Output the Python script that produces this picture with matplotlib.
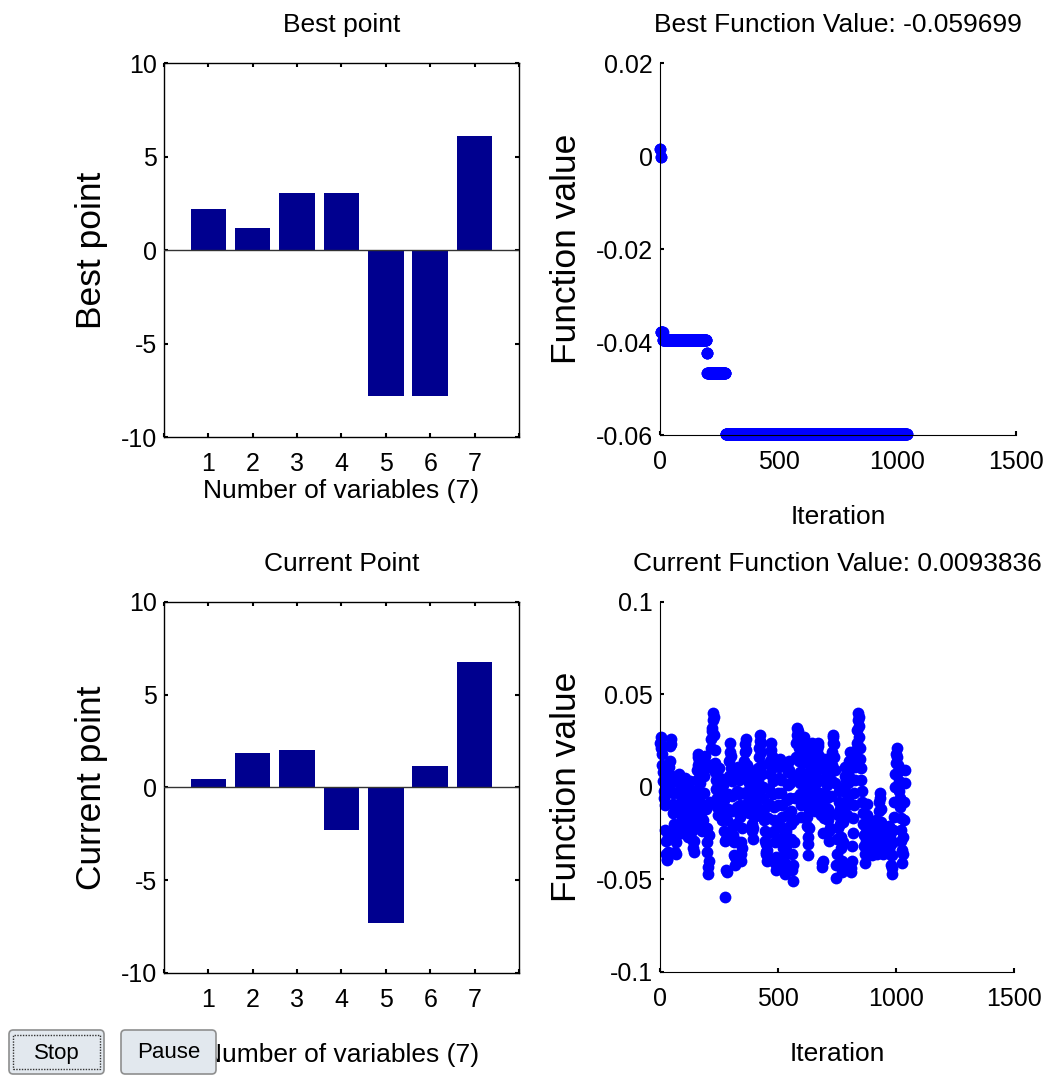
import matplotlib
matplotlib.use("Agg")
import matplotlib.pyplot as plt
from matplotlib.patches import FancyBboxPatch
import numpy as np

plt.rcParams['font.family'] = ['Liberation Sans', 'DejaVu Sans']
plt.rcParams['axes.unicode_minus'] = False

# variables 1..7
var_idx = [1, 2, 3, 4, 5, 6, 7]
best_x = [2.19, 1.17, 3.04, 3.04, -7.83, -7.83, 6.09]
current_x = [0.44, 1.87, 2.02, -2.31, -7.31, 1.13, 6.77]

# best function value (piecewise constant: iteration where a new best appears)
best_change_iter = [0, 2, 4, 12, 196, 199, 276]
best_level = [0.0015, -0.0003, -0.0378, -0.0396, -0.0424, -0.0467, -0.059699]
last_iter = 1040

# current function value, (iteration, value)
cur_points = np.array([
    (0, 0.024), (3, 0.027), (5, 0.021), (7, 0.018), (9, 0.012), (11, 0.008), (13, 0.003),
    (15, -0.002), (17, -0.006), (19, -0.010), (21, -0.004), (23, -0.023), (25, -0.029),
    (27, -0.036), (29, -0.0396), (31, -0.039), (33, -0.035), (35, -0.026), (37, 0.000),
    (39, 0.011), (41, 0.014), (43, 0.022), (45, 0.026), (47, 0.023), (49, 0.006), (51, 0.004),
    (53, -0.003), (55, -0.009), (57, -0.014), (59, -0.020), (61, -0.024), (63, -0.028),
    (65, -0.035), (67, -0.036), (69, -0.030), (71, -0.021), (73, -0.012), (75, -0.003),
    (77, 0.004), (79, 0.007), (81, 0.005), (83, 0.001), (85, -0.002), (87, -0.008),
    (89, -0.013), (91, -0.017), (93, -0.022), (95, -0.025), (97, -0.019), (99, -0.010),
    (101, -0.004), (103, 0.002), (105, 0.005), (107, 0.003), (109, -0.006), (111, -0.012),
    (113, -0.017), (115, -0.023), (117, -0.027), (119, -0.021), (121, -0.015), (123, -0.010),
    (125, -0.006), (127, -0.001), (129, 0.003), (131, -0.004), (133, -0.011), (135, -0.018),
    (137, -0.024), (139, -0.029), (141, -0.033), (143, -0.035), (145, -0.029), (147, -0.020),
    (149, -0.013), (151, -0.007), (153, -0.002), (155, 0.004), (157, 0.009), (159, 0.012),
    (161, 0.016), (163, 0.018), (165, 0.014), (167, 0.008), (169, 0.002), (171, -0.005),
    (173, -0.011), (175, -0.016), (177, -0.020), (179, -0.024), (181, -0.018), (183, -0.010),
    (185, -0.003), (187, 0.006), (189, 0.013), (191, 0.017), (193, 0.010), (195, -0.012),
    (197, -0.022), (199, -0.030), (201, -0.035), (203, -0.043), (205, -0.047), (207, -0.040),
    (209, -0.026), (211, -0.008), (213, 0.012), (215, 0.021), (217, 0.026), (219, 0.030),
    (221, 0.032), (223, 0.036), (225, 0.040), (227, 0.038), (229, 0.028), (231, 0.020),
    (233, 0.013), (235, 0.008), (237, 0.004), (239, -0.001), (241, -0.006), (243, -0.011),
    (245, -0.015), (247, -0.008), (249, 0.002), (251, 0.010), (253, 0.005), (255, -0.003),
    (257, -0.009), (259, -0.014), (261, -0.018), (263, -0.012), (265, -0.005), (267, 0.001),
    (269, -0.007), (271, -0.016), (273, -0.024), (275, -0.029), (277, -0.0597), (279, -0.045),
    (281, -0.028), (283, -0.018), (285, -0.046), (287, -0.012), (289, -0.004), (291, 0.006),
    (293, 0.014), (295, 0.019), (297, 0.024), (299, 0.017), (301, 0.010), (303, 0.003),
    (305, -0.005), (307, -0.013), (309, -0.021), (311, -0.026), (313, -0.030), (315, -0.037),
    (317, -0.042), (319, -0.038), (321, -0.029), (323, -0.020), (325, -0.011), (327, -0.002),
    (329, 0.006), (331, 0.011), (333, 0.004), (335, -0.004), (337, -0.010), (339, -0.016),
    (341, -0.030), (343, -0.036), (345, -0.040), (347, -0.033), (349, -0.022), (351, -0.012),
    (353, -0.003), (355, 0.007), (357, 0.014), (359, 0.019), (361, 0.023), (363, 0.026),
    (365, 0.020), (367, 0.012), (369, 0.005), (371, -0.002), (373, -0.008), (375, -0.014),
    (377, -0.006), (379, 0.002), (381, 0.009), (383, 0.004), (385, -0.005), (387, -0.013),
    (389, -0.020), (391, -0.024), (393, -0.028), (395, -0.022), (397, -0.016), (399, -0.009),
    (401, -0.002), (403, 0.006), (405, 0.001), (407, -0.007), (409, -0.015), (411, -0.011),
    (413, -0.003), (415, 0.004), (417, 0.010), (419, 0.016), (421, 0.021), (423, 0.025),
    (425, 0.028), (427, 0.024), (429, 0.019), (431, 0.012), (433, 0.007), (435, 0.000),
    (437, -0.006), (439, -0.012), (441, -0.018), (443, -0.024), (445, -0.029), (447, -0.035),
    (449, -0.036), (451, -0.031), (453, -0.040), (455, -0.034), (457, -0.025), (459, -0.017),
    (461, -0.009), (463, -0.001), (465, 0.007), (467, 0.014), (469, 0.020), (471, 0.024),
    (473, 0.017), (475, 0.010), (477, 0.003), (479, -0.004), (481, -0.011), (483, -0.018),
    (485, -0.024), (487, -0.030), (489, -0.041), (491, -0.045), (493, -0.038), (495, -0.028),
    (497, -0.019), (499, -0.010), (501, -0.003), (503, 0.005), (505, 0.011), (507, 0.015),
    (509, 0.012), (511, 0.004), (513, -0.003), (515, -0.010), (517, -0.016), (519, -0.022),
    (521, -0.027), (523, -0.033), (525, -0.037), (527, -0.043), (529, -0.047), (531, -0.041),
    (533, -0.032), (535, -0.024), (537, -0.015), (539, -0.007), (541, 0.001), (543, 0.008),
    (545, 0.014), (547, 0.009), (549, 0.002), (551, -0.006), (553, -0.013), (555, -0.020),
    (557, -0.028), (559, -0.036), (561, -0.045), (563, -0.051), (565, -0.042), (567, -0.030),
    (569, -0.018), (571, -0.006), (573, 0.006), (575, 0.016), (577, 0.024), (579, 0.028),
    (581, 0.032), (583, 0.030), (585, 0.026), (587, 0.021), (589, 0.014), (591, 0.008),
    (593, 0.002), (595, -0.004), (597, -0.010), (599, -0.016), (601, -0.008), (603, 0.004),
    (605, 0.013), (607, 0.020), (609, 0.027), (611, 0.022), (613, 0.015), (615, 0.007),
    (617, -0.001), (619, -0.009), (621, -0.016), (623, -0.021), (625, -0.027), (627, -0.037),
    (629, -0.031), (631, -0.022), (633, -0.013), (635, -0.005), (637, 0.003), (639, 0.010),
    (641, 0.016), (643, 0.021), (645, 0.024), (647, 0.019), (649, 0.012), (651, 0.005),
    (653, -0.002), (655, -0.008), (657, -0.013), (659, -0.006), (661, 0.002), (663, 0.009),
    (665, 0.015), (667, 0.020), (669, 0.024), (671, 0.022), (673, 0.017), (675, 0.011),
    (677, 0.004), (679, -0.003), (681, -0.009), (683, -0.015), (685, -0.041), (687, -0.043),
    (689, -0.040), (691, -0.025), (693, -0.017), (695, -0.011), (697, -0.004), (699, 0.003),
    (701, 0.010), (703, 0.015), (705, 0.008), (707, 0.001), (709, -0.006), (711, -0.012),
    (713, -0.018), (715, -0.024), (717, -0.029), (719, -0.022), (721, -0.014), (723, -0.005),
    (725, 0.004), (727, 0.012), (729, 0.019), (731, 0.024), (733, 0.027), (735, 0.028),
    (737, 0.023), (739, 0.016), (741, 0.009), (743, 0.002), (745, -0.049), (747, -0.042),
    (749, -0.036), (751, -0.028), (753, -0.022), (755, -0.015), (757, -0.008), (759, -0.002),
    (761, -0.012), (763, -0.020), (765, -0.027), (767, -0.033), (769, -0.040), (771, -0.046),
    (773, -0.041), (775, -0.030), (777, -0.019), (779, -0.009), (781, 0.000), (783, 0.006),
    (785, 0.011), (787, 0.004), (789, -0.003), (791, -0.010), (793, -0.015), (795, -0.007),
    (797, 0.002), (799, 0.009), (801, 0.014), (803, 0.019), (805, 0.012), (807, 0.005),
    (809, -0.044), (811, -0.046), (813, -0.040), (815, -0.032), (817, -0.025), (819, -0.017),
    (821, -0.010), (823, -0.003), (825, 0.004), (827, 0.011), (829, 0.017), (831, 0.020),
    (833, 0.024), (835, 0.031), (837, 0.036), (839, 0.040), (841, 0.038), (843, 0.033),
    (845, 0.027), (847, 0.021), (849, 0.015), (851, 0.010), (853, 0.004), (855, -0.002),
    (857, -0.008), (859, -0.014), (861, -0.020), (863, -0.026), (865, -0.032), (867, -0.041),
    (869, -0.036), (871, -0.029), (873, -0.022), (875, -0.015), (877, -0.009), (879, -0.016),
    (881, -0.023), (883, -0.029), (885, -0.034), (887, -0.030), (889, -0.024), (891, -0.019),
    (893, -0.026), (895, -0.033), (897, -0.037), (899, -0.031), (901, -0.025), (903, -0.020),
    (905, -0.027), (907, -0.034), (909, -0.029), (911, -0.023), (913, -0.018), (915, -0.025),
    (917, -0.032), (919, -0.036), (921, -0.030), (923, -0.024), (925, -0.019), (927, -0.013),
    (929, -0.008), (931, -0.003), (933, -0.006), (935, -0.012), (937, -0.019), (939, -0.025),
    (941, -0.031), (943, -0.036), (945, -0.030), (947, -0.024), (949, -0.028), (951, -0.033),
    (953, -0.027), (955, -0.022), (957, -0.029), (959, -0.035), (961, -0.028), (963, -0.023),
    (965, -0.030), (967, -0.034), (969, -0.027), (971, -0.021), (973, -0.026), (975, -0.032),
    (977, -0.037), (979, -0.042), (981, -0.047), (983, -0.044), (985, -0.037), (987, -0.030),
    (989, -0.023), (991, -0.016), (993, -0.008), (995, 0.000), (997, 0.007), (999, 0.013),
    (1001, 0.018), (1003, 0.021), (1005, 0.016), (1007, 0.012), (1009, 0.008), (1011, 0.003),
    (1013, -0.002), (1015, -0.006), (1017, -0.011), (1019, -0.017), (1021, -0.023),
    (1023, -0.029), (1025, -0.034), (1027, -0.041), (1029, -0.036), (1031, -0.027),
    (1033, -0.018), (1035, -0.008), (1037, 0.002), (1040, 0.0093836),
])
cur_iter, cur_val = cur_points[:, 0], cur_points[:, 1]

best_iters = np.arange(last_iter + 1)
best_vals = np.array(best_level)[np.searchsorted(best_change_iter, best_iters, side='right') - 1]

BAR = '#00008F'
DOT = '#0000FF'
TFS = 19     # titles / xlabels
YFS = 25.5   # rotated ylabels
KFS = 18     # tick labels
MS = 8.5

fig = plt.figure(figsize=(10.48, 10.77), dpi=100)

def style_ticks(ax, **kw):
    ax.tick_params(direction='in', length=3, width=1.5, labelsize=KFS, **kw)
    ax.tick_params(axis='x', pad=11)
    ax.tick_params(axis='y', pad=5)

def bar_panel(rect, vals, title, ylabel, xpad):
    ax = fig.add_axes(rect)
    ax.bar(var_idx, vals, width=0.8, color=BAR, zorder=2)
    ax.axhline(0, color='#333333', lw=1.0, zorder=3)
    ax.set_xlim(0, 8)
    ax.set_ylim(-10, 10)
    ax.set_xticks(range(0, 9))
    ax.set_xticklabels([''] + [str(v) for v in var_idx] + [''])
    ax.set_yticks([-10, -5, 0, 5, 10])
    style_ticks(ax, top=True, right=True)
    for s in ax.spines.values():
        s.set_linewidth(1.0)
    ax.set_title(title, fontsize=TFS, pad=22)
    ax.set_xlabel('Number of variables (7)', fontsize=TFS, labelpad=xpad)
    ax.set_ylabel(ylabel, fontsize=YFS, labelpad=9)
    return ax

def value_panel(rect, x, y, title, ylim, yticks, yticklabels):
    ax = fig.add_axes(rect)
    ax.plot(x, y, 'o', color=DOT, ms=MS, mew=0, zorder=2, clip_on=False)
    ax.set_xlim(0, 1500)
    ax.set_ylim(*ylim)
    ax.set_xticks([0, 500, 1000, 1500])
    ax.set_yticks(yticks)
    ax.set_yticklabels(yticklabels)
    ax.spines['top'].set_visible(False)
    ax.spines['right'].set_visible(False)
    style_ticks(ax)
    ax.set_title(title, fontsize=TFS, pad=22)
    ax.set_xlabel('Iteration', fontsize=TFS, labelpad=22)
    ax.set_ylabel('Function value', fontsize=YFS, labelpad=9)
    return ax

bar_panel([0.1565, 0.5942, 0.3387, 0.3473], best_x, 'Best point', 'Best point', 2)
bar_panel([0.1565, 0.0966, 0.3387, 0.3445], current_x, 'Current Point', 'Current point', 22)

value_panel([0.6298, 0.5961, 0.3397, 0.3454], best_iters, best_vals,
            'Best Function Value: -0.059699', (-0.06, 0.02),
            [-0.06, -0.04, -0.02, 0, 0.02], ['-0.06', '-0.04', '-0.02', '0', '0.02'])
value_panel([0.6298, 0.0975, 0.3378, 0.3436], cur_iter, cur_val,
            'Current Function Value: 0.0093836', (-0.1, 0.1),
            [-0.1, -0.05, 0, 0.05, 0.1], ['-0.1', '-0.05', '0', '0.05', '0.1'])

# Stop / Pause buttons
W, H = 1048.0, 1077.0
for x0, label, focus in [(9, 'Stop', True), (121, 'Pause', False)]:
    btn = FancyBboxPatch((x0 / W, 1 - 1074 / H), 95 / W, 44 / H,
                         boxstyle='round,pad=0,rounding_size=0.004',
                         transform=fig.transFigure, facecolor='#E2E8EE',
                         edgecolor='#8E8F8F', lw=1.2, zorder=10)
    fig.patches.append(btn)
    if focus:
        inner = FancyBboxPatch(((x0 + 4) / W, 1 - 1069 / H), 87 / W, 34 / H,
                               boxstyle='square,pad=0', transform=fig.transFigure,
                               facecolor='none', edgecolor='#333333', lw=1.0,
                               ls=(0, (1, 1)), zorder=11)
        fig.patches.append(inner)
    fig.text((x0 + 47.5) / W, 1 - 1053 / H, label, ha='center', va='center',
             fontsize=16, zorder=12)

fig.savefig('out.png', dpi=100)
